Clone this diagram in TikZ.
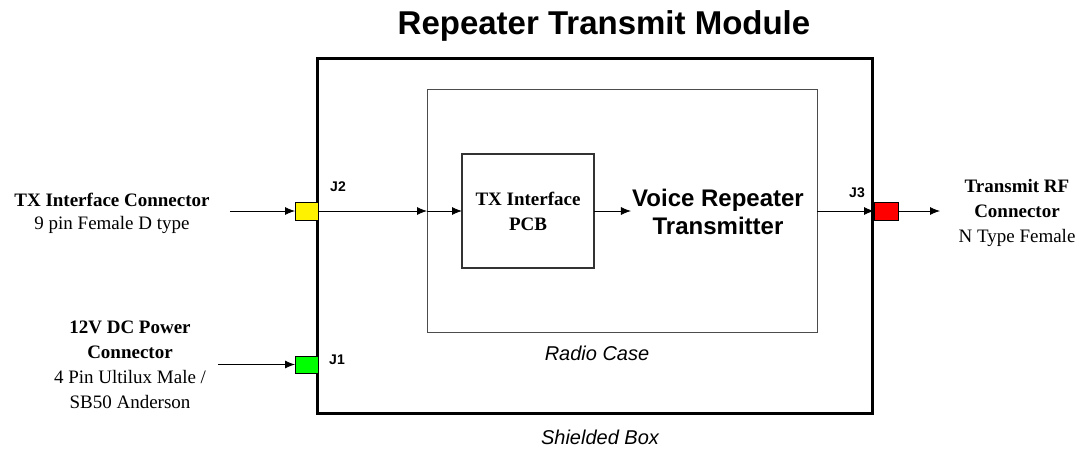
\documentclass[tikz,border=0pt]{standalone}
\usepackage{fontspec}
\setmainfont{Liberation Serif}
\setsansfont{Liberation Sans}
\usetikzlibrary{arrows.meta}
\newcommand{\fsz}[2]{\fontsize{#1}{#2}\selectfont}
\begin{document}
\begin{tikzpicture}[x=1pt,y=-1pt,
  box/.style={draw, inner sep=0pt, outer sep=0pt},
  shieldbox/.style={box, line width=3pt},
  casebox/.style={box, draw=black!70, line width=1pt},
  pcbbox/.style={box, draw=black!80, line width=1.1pt},
  conn/.style={box, draw=black, line width=0.8pt, minimum width=23, minimum height=18},
  sig/.style={line width=0.8pt, -{Latex[length=10pt,width=8pt]}},
  extlabel/.style={font=\fsz{19}{24}, align=center, inner sep=0pt},
  jlabel/.style={font=\sffamily\bfseries\fsz{14}{16}, inner sep=0pt},
  caption/.style={font=\sffamily\itshape\fsz{20}{24}, inner sep=0pt}
]
\useasboundingbox (0,0) rectangle (1080,448);

% title
\node[font=\sffamily\bfseries\fsz{33}{38}, inner sep=0pt] (title) at (604,26) {Repeater Transmit Module};

% enclosures
\node[shieldbox, minimum width=555, minimum height=355] (shield) at (594.5,235.5) {};
\node[casebox, minimum width=390, minimum height=243] (radio) at (622,211) {};
\node[pcbbox, minimum width=132, minimum height=114] (pcb) at (528,211) {};
\node[font=\bfseries\fsz{19}{25}, align=center, inner sep=0pt] (pcbtext) at (pcb.center) {TX Interface\\PCB};
\node[font=\sffamily\bfseries\fsz{24}{28}, align=center, inner sep=1pt] (vrt) at (718,212) {Voice Repeater\\Transmitter};

\node[caption] (radiocap) at (597,353) {Radio Case};
\node[caption] (shieldcap) at (600,437) {Shielded Box};

% connectors
\node[conn, fill=yellow] (j2) at (306.5,211) {};
\node[conn, fill=green, minimum height=17] (j1) at (306.5,364.5) {};
\node[conn, fill=red, minimum width=24] (j3) at (886,211) {};

\node[jlabel] (j2lab) at (338,187) {J2};
\node[jlabel] (j1lab) at (337,360) {J1};
\node[jlabel] (j3lab) at (857,193) {J3};

% external descriptions
\node[extlabel, font=\fsz{19}{23}] (txlab) at (112,213)
  {\textbf{TX Interface Connector}\\9 pin Female D type};
\node[extlabel, font=\fsz{19}{25}] (pwrlab) at (130,365)
  {\textbf{12V DC Power}\\\textbf{Connector}\\4 Pin Ultilux Male /\\SB50 Anderson};
\node[extlabel, font=\fsz{19}{25}] (rflab) at (1017,213)
  {\textbf{Transmit RF}\\\textbf{Connector}\\N Type Female};

% signal paths
\coordinate (txin) at (230,211);
\coordinate (pwrin) at (218,364.5);
\coordinate (rfout) at (940,211);
\coordinate (rcin) at (radio.west |- j2.east);
\coordinate (rcout) at (radio.east |- j3.west);

\draw[sig] (txin) -- (j2.west);
\draw[sig] (j2.east) -- (rcin);
\draw[sig] (rcin) -- (pcb.west);
\draw[sig] (pcb.east) -- (vrt.west |- pcb.east);
\draw[sig] (rcout) -- (j3.west);
\draw[sig] (j3.east) -- (rfout);
\draw[sig] (pwrin) -- (j1.west);
\end{tikzpicture}
\end{document}
